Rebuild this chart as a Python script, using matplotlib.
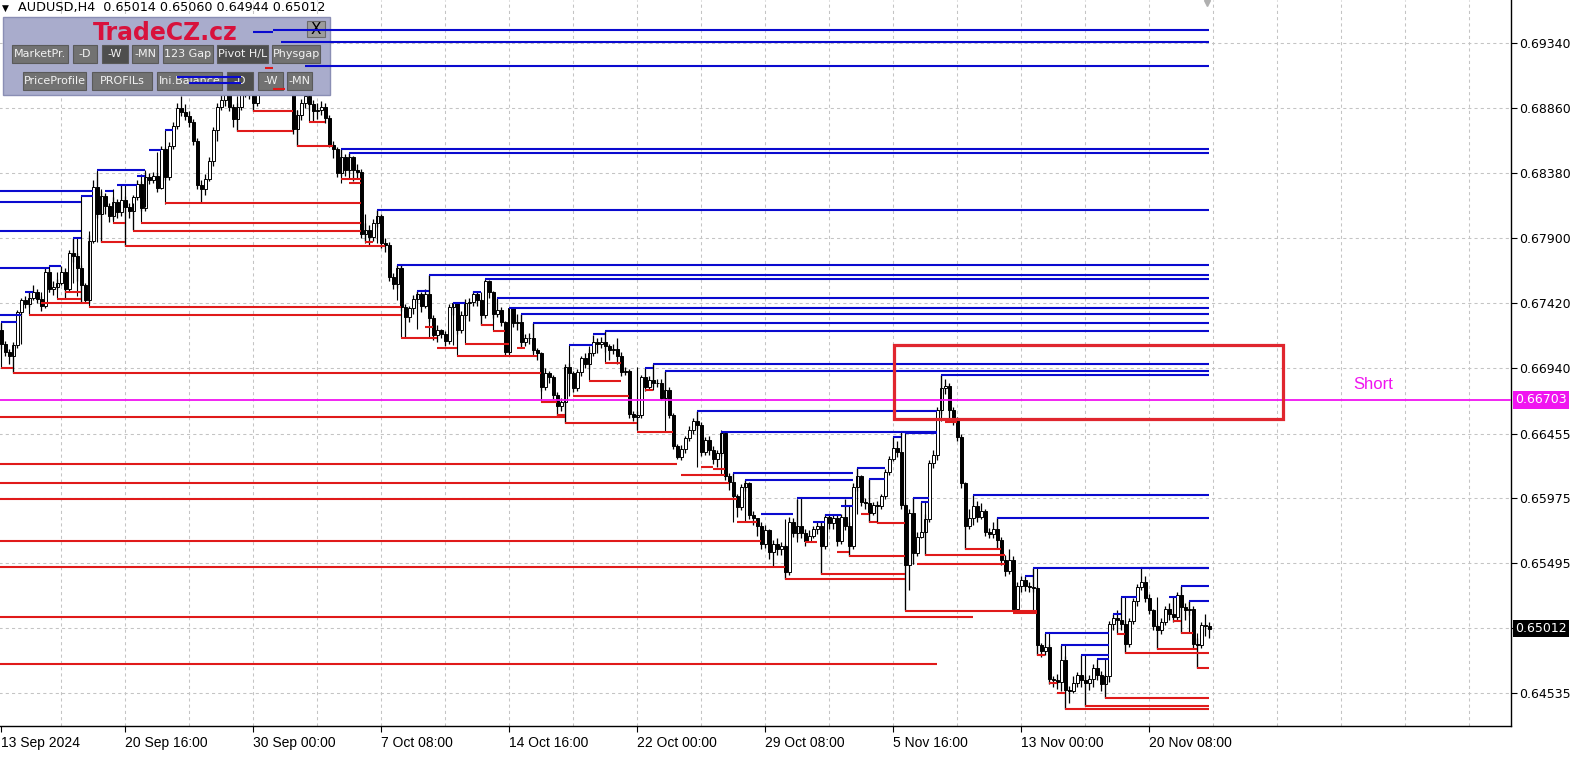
import numpy as np
import matplotlib
matplotlib.use("Agg")
import matplotlib.pyplot as plt
from matplotlib.patches import Rectangle
from matplotlib.transforms import blended_transform_factory

# ---------------- data (prices in pips, 1 pip = 0.0001) ----------------
first_open = 6722

close_pips = [
    6712, 6706, 6703, 6711, 6735, 6744, 6741, 6746, 6750, 6745,
    6740, 6765, 6752, 6754, 6757, 6765, 6752, 6779, 6777, 6768,
    6755, 6744, 6788, 6828, 6808, 6821, 6814, 6806, 6817, 6809,
    6818, 6813, 6810, 6820, 6830, 6812, 6835, 6833, 6836, 6827,
    6856, 6835, 6858, 6873, 6886, 6883, 6880, 6876, 6862, 6829,
    6826, 6834, 6847, 6870, 6887, 6892, 6896, 6887, 6878, 6887,
    6897, 6905, 6898, 6890, 6905, 6915, 6925, 6935, 6930, 6925,
    6928, 6915, 6905, 6871, 6881, 6890, 6895, 6889, 6884, 6885,
    6887, 6879, 6859, 6856, 6838, 6850, 6840, 6850, 6840, 6839,
    6793, 6796, 6791, 6801, 6806, 6786, 6785, 6761, 6756, 6768,
    6739, 6732, 6738, 6745, 6749, 6740, 6749, 6731, 6718, 6722,
    6719, 6714, 6739, 6742, 6722, 6733, 6742, 6743, 6749, 6744,
    6733, 6758, 6750, 6734, 6737, 6728, 6706, 6738, 6727, 6728,
    6713, 6716, 6716, 6707, 6705, 6680, 6690, 6687, 6674, 6666,
    6669, 6695, 6690, 6679, 6691, 6701, 6697, 6705, 6713, 6712,
    6713, 6710, 6707, 6708, 6703, 6691, 6692, 6660, 6658, 6659,
    6687, 6680, 6685, 6683, 6683, 6672, 6678, 6659, 6636, 6628,
    6634, 6642, 6648, 6655, 6652, 6632, 6641, 6633, 6627, 6631,
    6646, 6614, 6610, 6599, 6591, 6606, 6609, 6585, 6583, 6577,
    6564, 6574, 6558, 6564, 6560, 6562, 6543, 6580, 6572, 6577,
    6572, 6566, 6570, 6575, 6577, 6562, 6584, 6579, 6583, 6566,
    6584, 6577, 6562, 6606, 6614, 6595, 6594, 6587, 6593, 6592,
    6599, 6617, 6627, 6635, 6632, 6593, 6548, 6587, 6557, 6569,
    6573, 6582, 6624, 6630, 6663, 6679, 6681, 6663, 6656, 6643,
    6609, 6577, 6583, 6592, 6584, 6588, 6573, 6571, 6575, 6567,
    6552, 6544, 6552, 6516, 6533, 6537, 6533, 6532, 6531, 6489,
    6485, 6488, 6464, 6463, 6462, 6478, 6456, 6455, 6461, 6467,
    6463, 6461, 6464, 6472, 6467, 6460, 6466, 6505, 6509, 6508,
    6505, 6490, 6507, 6522, 6532, 6536, 6524, 6515, 6503, 6500,
    6506, 6516, 6512, 6510, 6526, 6517, 6515, 6516, 6490, 6489,
    6504, 6503, 6501.2,
]

high_pips = [
    6727, 6714, 6708, 6713, 6737, 6746, 6747, 6750, 6755, 6752,
    6747, 6768, 6767, 6758, 6760, 6769, 6768, 6781, 6790, 6779,
    6770, 6757, 6792, 6833, 6839, 6825, 6823, 6816, 6820, 6819,
    6829, 6821, 6816, 6822, 6833, 6832, 6839, 6838, 6839, 6838,
    6858, 6857, 6861, 6876, 6890, 6895, 6889, 6884, 6878, 6864,
    6833, 6837, 6850, 6872, 6890, 6898, 6900, 6898, 6889, 6890,
    6902, 6912, 6909, 6901, 6908, 6919, 6929, 6940, 6944, 6933,
    6936, 6930, 6917, 6906, 6885, 6893, 6917, 6898, 6892, 6890,
    6891, 6890, 6881, 6862, 6857, 6856, 6852, 6853, 6851, 6845,
    6841, 6801, 6800, 6804, 6811, 6808, 6790, 6787, 6764, 6770,
    6770, 6741, 6740, 6748, 6751, 6750, 6752, 6763, 6733, 6726,
    6723, 6721, 6741, 6743, 6742, 6736, 6745, 6746, 6751, 6751,
    6745, 6760, 6759, 6751, 6746, 6739, 6729, 6738, 6738, 6734,
    6734, 6719, 6720, 6727, 6709, 6706, 6694, 6692, 6689, 6676,
    6672, 6697, 6698, 6692, 6693, 6703, 6705, 6708, 6718, 6716,
    6717, 6721, 6712, 6712, 6716, 6706, 6695, 6693, 6662, 6662,
    6689, 6694, 6688, 6697, 6686, 6686, 6692, 6680, 6661, 6638,
    6637, 6644, 6651, 6657, 6662, 6654, 6643, 6644, 6636, 6633,
    6647, 6647, 6616, 6616, 6601, 6608, 6611, 6610, 6588, 6582,
    6580, 6578, 6575, 6567, 6568, 6565, 6564, 6584, 6583, 6597,
    6598, 6575, 6574, 6577, 6580, 6580, 6586, 6586, 6586, 6585,
    6586, 6597, 6580, 6609, 6620, 6615, 6598, 6612, 6595, 6596,
    6601, 6619, 6629, 6643, 6640, 6647, 6594, 6590, 6598, 6573,
    6595, 6586, 6626, 6633, 6665, 6689, 6686, 6683, 6665, 6658,
    6645, 6610, 6590, 6600, 6596, 6594, 6590, 6576, 6580, 6583,
    6569, 6556, 6560, 6555, 6536, 6540, 6540, 6536, 6546, 6533,
    6491, 6498, 6490, 6466, 6468, 6489, 6481, 6459, 6466, 6469,
    6482, 6466, 6467, 6475, 6479, 6470, 6468, 6507, 6512, 6515,
    6525, 6508, 6509, 6524, 6534, 6546, 6540, 6527, 6516, 6505,
    6509, 6518, 6520, 6525, 6528, 6533, 6520, 6522, 6518, 6494,
    6506, 6512, 6506,
]

low_pips = [
    6708, 6703, 6697, 6690, 6709, 6733, 6738, 6739, 6744, 6742,
    6736, 6738, 6750, 6748, 6752, 6755, 6745, 6750, 6772, 6758,
    6743, 6742, 6742, 6786, 6805, 6787, 6808, 6802, 6803, 6805,
    6806, 6784, 6805, 6796, 6818, 6810, 6810, 6830, 6831, 6824,
    6826, 6833, 6833, 6856, 6871, 6880, 6877, 6872, 6859, 6826,
    6816, 6822, 6832, 6843, 6862, 6885, 6888, 6884, 6872, 6869,
    6885, 6894, 6893, 6884, 6888, 6902, 6912, 6922, 6926, 6920,
    6921, 6910, 6898, 6867, 6858, 6877, 6886, 6885, 6876, 6878,
    6881, 6875, 6857, 6849, 6835, 6836, 6836, 6838, 6832, 6834,
    6790, 6788, 6784, 6788, 6798, 6783, 6780, 6758, 6752, 6753,
    6736, 6716, 6728, 6734, 6742, 6735, 6738, 6728, 6715, 6713,
    6716, 6710, 6712, 6733, 6719, 6720, 6730, 6729, 6740, 6740,
    6726, 6731, 6746, 6731, 6732, 6725, 6703, 6705, 6724, 6722,
    6710, 6710, 6712, 6705, 6700, 6677, 6678, 6683, 6671, 6658,
    6662, 6653, 6686, 6676, 6677, 6688, 6694, 6693, 6703, 6705,
    6709, 6706, 6700, 6704, 6697, 6688, 6689, 6657, 6655, 6648,
    6657, 6677, 6678, 6680, 6680, 6670, 6670, 6657, 6634, 6627,
    6626, 6631, 6640, 6645, 6649, 6629, 6630, 6630, 6623, 6621,
    6629, 6611, 6604, 6597, 6584, 6589, 6603, 6582, 6578, 6570,
    6560, 6561, 6553, 6547, 6556, 6556, 6538, 6541, 6569, 6568,
    6568, 6562, 6565, 6568, 6571, 6542, 6560, 6575, 6575, 6562,
    6564, 6574, 6555, 6560, 6603, 6592, 6590, 6580, 6585, 6579,
    6590, 6597, 6615, 6625, 6628, 6590, 6515, 6530, 6549, 6555,
    6568, 6556, 6580, 6620, 6626, 6660, 6675, 6655, 6652, 6640,
    6605, 6560, 6575, 6578, 6580, 6582, 6570, 6568, 6568, 6560,
    6548, 6540, 6542, 6514, 6514, 6528, 6529, 6528, 6528, 6482,
    6480, 6482, 6460, 6458, 6457, 6455, 6442, 6446, 6454, 6458,
    6458, 6444, 6456, 6458, 6463, 6455, 6450, 6462, 6500, 6497,
    6500, 6483, 6488, 6505, 6518, 6530, 6521, 6512, 6500, 6486,
    6497, 6504, 6508, 6506, 6508, 6498, 6508, 6511, 6487, 6472,
    6487, 6496, 6494.4,
]

# resistance levels: (first bar, last bar, price in pips)
blue_levels = [
    (68, 302, 6944), (70, 302, 6935), (76, 302, 6917), (85, 302, 6856),
    (87, 302, 6853), (94, 302, 6811), (99, 302, 6770), (107, 302, 6763),
    (121, 302, 6760), (124, 302, 6746), (127, 302, 6738), (130, 302, 6734),
    (133, 302, 6727), (151, 302, 6721), (163, 302, 6697), (166, 302, 6692),
    (235, 302, 6689), (243, 302, 6600), (249, 302, 6583), (258, 302, 6546),
    (285, 302, 6546), (295, 302, 6533), (297, 302, 6522),
    (174, 234, 6662), (180, 234, 6647), (225, 234, 6647), (226, 234, 6646),
    (-1, 23, 6825), (-1, 20, 6817), (-1, 20, 6795), (-1, 12, 6768),
    (-1, 5, 6733), (0, 4, 6728), (6, 8, 6750), (12, 15, 6769), (18, 20, 6790),
    (20, 23, 6821), (24, 36, 6840), (26, 28, 6825), (29, 34, 6829),
    (34, 36, 6836), (37, 40, 6855), (41, 43, 6870), (44, 60, 6909),
    (47, 60, 6905), (63, 68, 6942),
    (104, 107, 6751), (113, 116, 6742), (118, 120, 6750), (142, 148, 6711),
    (148, 151, 6719), (161, 163, 6694),
    (183, 213, 6616), (186, 213, 6611), (190, 198, 6586), (199, 213, 6598),
    (203, 206, 6580), (206, 210, 6585), (210, 213, 6592), (214, 221, 6620),
    (217, 221, 6612), (223, 225, 6643), (228, 232, 6598), (230, 232, 6595),
    (256, 258, 6540), (261, 277, 6498), (265, 277, 6489), (270, 277, 6482),
    (274, 277, 6479), (278, 280, 6512), (280, 284, 6525), (292, 294, 6525),
]

# support levels: (first bar, last bar, price in pips)
red_levels = [
    (0, 3, 6694), (3, 135, 6690), (-1, 141, 6658), (-1, 169, 6623),
    (-1, 182, 6609), (-1, 184, 6597), (-1, 190, 6566), (-1, 196, 6547),
    (-1, 243, 6510), (-1, 234, 6475),
    (7, 100, 6733), (22, 100, 6739), (10, 22, 6742), (14, 20, 6745),
    (16, 20, 6750), (25, 31, 6787), (28, 31, 6801), (31, 96, 6784),
    (33, 90, 6795), (35, 90, 6801), (41, 90, 6816),
    (59, 73, 6869), (63, 73, 6884), (66, 68, 6916), (68, 71, 6900),
    (74, 83, 6858), (77, 81, 6876), (85, 90, 6834), (87, 90, 6831),
    (91, 93, 6787),
    (100, 109, 6716), (106, 108, 6724), (109, 114, 6709), (114, 134, 6703),
    (116, 127, 6712), (120, 123, 6726), (123, 126, 6721), (129, 131, 6709),
    (135, 139, 6669), (139, 141, 6659), (141, 159, 6653), (143, 157, 6673),
    (147, 155, 6684), (151, 155, 6698),
    (159, 168, 6647), (161, 163, 6678), (170, 181, 6615), (175, 178, 6621),
    (178, 181, 6619), (184, 189, 6580), (196, 226, 6538), (201, 204, 6565),
    (205, 226, 6542), (209, 212, 6558), (212, 226, 6555), (215, 217, 6586),
    (217, 219, 6580), (219, 226, 6579),
    (226, 259, 6514), (229, 251, 6549), (231, 251, 6556), (236, 239, 6654),
    (236, 239, 6655), (241, 250, 6560), (253, 259, 6513),
    (259, 261, 6482), (262, 264, 6461), (264, 266, 6454), (266, 302, 6442),
    (271, 302, 6444), (276, 302, 6450), (279, 281, 6497), (281, 302, 6483),
    (289, 299, 6486), (293, 295, 6507), (295, 298, 6498), (299, 302, 6472),
]

# vertical connectors drawn by the indicator: (bar, low, high)
links = [
    (0, 6694, 6728), (3, 6691, 6712), (5, 6712, 6733), (7, 6733, 6750),
    (10, 6742, 6750), (12, 6750, 6770), (14, 6745, 6765), (16, 6750, 6762),
    (18, 6757, 6790), (19, 6747, 6790), (20, 6743, 6822), (22, 6739, 6795),
    (24, 6787, 6840), (25, 6787, 6826), (28, 6801, 6826), (31, 6784, 6829),
    (33, 6796, 6816), (35, 6801, 6837), (36, 6813, 6840), (39, 6827, 6854),
    (41, 6815, 6870), (59, 6869, 6895), (63, 6884, 6895), (74, 6858, 6885),
    (77, 6876, 6895), (85, 6831, 6856), (87, 6834, 6853), (91, 6786, 6808),
    (94, 6786, 6811), (99, 6744, 6770), (100, 6716, 6770), (104, 6723, 6751),
    (107, 6716, 6763), (113, 6711, 6742), (114, 6703, 6733), (116, 6712, 6742),
    (120, 6726, 6750), (123, 6721, 6745), (127, 6703, 6738), (130, 6709, 6734),
    (133, 6703, 6727), (135, 6669, 6695), (141, 6653, 6695), (142, 6673, 6711),
    (147, 6684, 6710), (151, 6698, 6721), (159, 6648, 6695), (163, 6678, 6697),
    (166, 6647, 6692), (174, 6621, 6662), (180, 6615, 6648), (183, 6580, 6616),
    (186, 6580, 6611), (196, 6538, 6582), (199, 6565, 6597), (205, 6542, 6580),
    (212, 6555, 6592), (214, 6586, 6620), (217, 6580, 6612), (226, 6514, 6647),
    (228, 6549, 6598), (231, 6556, 6595), (235, 6655, 6689), (241, 6560, 6599),
    (249, 6560, 6584), (258, 6514, 6546), (259, 6482, 6546), (262, 6461, 6498),
    (266, 6442, 6489), (271, 6444, 6482), (276, 6450, 6479), (281, 6483, 6525),
    (289, 6486, 6525), (295, 6498, 6533), (297, 6498, 6522), (299, 6472, 6498),
]

short_price = 0.66703
bid_price = 0.65012
box_bars = (223.1, 320.4)
box_prices = (0.66560, 0.67113)
short_label_bar = 343
short_label_price = 0.66814

grid_prices = [0.69340, 0.68860, 0.68380, 0.67900, 0.67420, 0.66940,
               0.66455, 0.65975, 0.65495, 0.65015, 0.64535]
date_bars = [0, 31, 63, 95, 127, 159, 191, 223, 255, 287]
date_labels = ["13 Sep 2024", "20 Sep 16:00", "30 Sep 00:00", "7 Oct 08:00",
               "14 Oct 16:00", "22 Oct 00:00", "29 Oct 08:00", "5 Nov 16:00",
               "13 Nov 00:00", "20 Nov 08:00"]
header = "AUDUSD,H4  0.65014 0.65060 0.64944 0.65012"

row1_buttons = [("MarketPr.", 12, 68, False), ("-D", 73, 97, False),
                ("-W", 102, 128, True), ("-MN", 132, 158, False),
                ("123 Gap", 163, 213, False), ("Pivot H/L", 217, 268, True),
                ("Physgap", 272, 320, False)]
row2_buttons = [("PriceProfile", 23, 86, False), ("PROFILs", 92, 152, False),
                ("Ini.Balance", 157, 222, False), ("-D", 227, 253, True),
                ("-W", 258, 283, False), ("-MN", 287, 312, False)]

# ---------------- derived ----------------
c = np.array(close_pips) / 1e4
h = np.array(high_pips) / 1e4
l = np.array(low_pips) / 1e4
o = np.concatenate([[first_open / 1e4], c[:-1]])
idx = np.arange(len(c))

BLUE = "#0A0ACF"
RED = "#E01A1A"
MAGENTA = "#F014F0"

fig = plt.figure(figsize=(15.8, 7.6), dpi=100)
W_PX, H_PX = 1511, 726
ax = fig.add_axes([0, 34 / 760, W_PX / 1580, H_PX / 760])
ax.set_xlim(-0.375, 377.4)
ax.set_ylim(0.64293, 0.69660)


def px(x, y):
    # pixel position inside the chart area -> axes fraction
    return x / W_PX, 1 - y / H_PX


# grid
gx = np.arange(15, 378, 16)
ax.vlines(gx, 0.64293, 0.69660, colors="#C4C4C4", lw=0.75,
          linestyles=(0, (3, 3)), zorder=0)
ax.hlines(grid_prices, -1, 380, colors="#C4C4C4", lw=0.75,
          linestyles=(0, (3, 3)), zorder=0)

# candles
ax.vlines(idx, l, h, colors="black", lw=0.9, zorder=2)
up = c >= o
body_lo = np.minimum(o, c)
body_h = np.maximum(np.abs(c - o), 0.00002)
ax.bar(idx[up], body_h[up], bottom=body_lo[up], width=0.62,
       color="white", edgecolor="black", linewidth=0.7, zorder=2.1)
ax.bar(idx[~up], body_h[~up], bottom=body_lo[~up], width=0.62,
       color="black", edgecolor="black", linewidth=0.7, zorder=2.1)

# control panel (drawn over candles, under indicator lines)
x0, y0 = px(3, 95)
x1, y1 = px(330, 17)
ax.add_patch(Rectangle((x0, y0), x1 - x0, y1 - y0, transform=ax.transAxes,
                       facecolor="#A9ACCC", edgecolor="#8A8EB4", lw=1,
                       zorder=3, clip_on=False))
tx, ty = px(165, 33)
ax.text(tx, ty, "TradeCZ.cz", transform=ax.transAxes, ha="center",
        va="center", fontsize=17, fontweight="bold", color="#D8123C",
        zorder=4)
bx0, by0 = px(307, 37)
bx1, by1 = px(325, 21)
ax.add_patch(Rectangle((bx0, by0), bx1 - bx0, by1 - by0,
                       transform=ax.transAxes, facecolor="#9C9C9C",
                       edgecolor="#6A6A6A", lw=0.8, zorder=3.5))
ax.text((bx0 + bx1) / 2, (by0 + by1) / 2, "X", transform=ax.transAxes,
        ha="center", va="center", fontsize=11, color="black", zorder=4)
for row, (ytop, ybot) in ((row1_buttons, (45, 63)), (row2_buttons, (72, 90))):
    for label, xa, xb, pressed in row:
        ax_, ay_ = px(xa, ybot)
        bx_, by_ = px(xb, ytop)
        ax.add_patch(Rectangle((ax_, ay_), bx_ - ax_, by_ - ay_,
                               transform=ax.transAxes,
                               facecolor="#4E4E4E" if pressed else "#727272",
                               edgecolor="#5A5A5A", lw=0.8, zorder=3.5))
        ax.text((ax_ + bx_) / 2, (ay_ + by_) / 2, label,
                transform=ax.transAxes, ha="center", va="center",
                fontsize=8, color="#F2F2F2", zorder=4)

# indicator levels
for s, e, p in red_levels:
    ax.hlines(p / 1e4, s, e, colors=RED, lw=1.5, zorder=5)
for s, e, p in blue_levels:
    ax.hlines(p / 1e4, s, e, colors=BLUE, lw=1.5, zorder=5)
for b, lo, hi in links:
    ax.vlines(b, lo / 1e4, hi / 1e4, colors="black", lw=0.8, zorder=4.8)

# short zone
ax.axhline(short_price, color=MAGENTA, lw=1.3, zorder=6)
ax.add_patch(Rectangle((box_bars[0], box_prices[0]),
                       box_bars[1] - box_bars[0],
                       box_prices[1] - box_prices[0],
                       fill=False, edgecolor="#E0262E", lw=2.3, zorder=6))
ax.text(short_label_bar, short_label_price, "Short", color=MAGENTA,
        fontsize=12, ha="center", va="center", family="Liberation Sans",
        zorder=6)

# header
ax.text(*px(2, 8), "\u25bc", transform=ax.transAxes, fontsize=6.5,
        ha="left", va="center", zorder=6)
ax.text(*px(18, 8), header, transform=ax.transAxes, fontsize=9.2,
        ha="left", va="center", zorder=6)
ax.plot([301.4], [0.69640], marker="v", color="#B0B0B0", markersize=5,
        clip_on=False, zorder=6)

# axes styling
for side in ("left", "top"):
    ax.spines[side].set_visible(False)
for side in ("right", "bottom"):
    ax.spines[side].set_linewidth(1.0)
    ax.spines[side].set_color("black")

ax.yaxis.tick_right()
ax.set_yticks(grid_prices)
ax.set_yticklabels(["" if abs(p - bid_price) < 0.0001 else f"{p:.5f}"
                    for p in grid_prices])
ax.tick_params(axis="y", direction="out", length=4, width=0.8, pad=2,
               labelsize=9)
ax.set_xticks(date_bars)
ax.set_xticklabels(date_labels, family="Liberation Sans", fontsize=10)
for lab in ax.get_xticklabels():
    lab.set_horizontalalignment("left")
ax.tick_params(axis="x", direction="out", length=4, width=0.8, pad=3)

trans = blended_transform_factory(ax.transAxes, ax.transData)
ax.text(1.003, short_price, "0.66703", transform=trans, color="white",
        fontsize=9, ha="left", va="center",
        bbox=dict(facecolor=MAGENTA, edgecolor="none", pad=1.6), zorder=7)
ax.text(1.003, bid_price, "0.65012", transform=trans, color="white",
        fontsize=9, ha="left", va="center",
        bbox=dict(facecolor="black", edgecolor="none", pad=1.6), zorder=7)

fig.savefig("out.png", dpi=100)
